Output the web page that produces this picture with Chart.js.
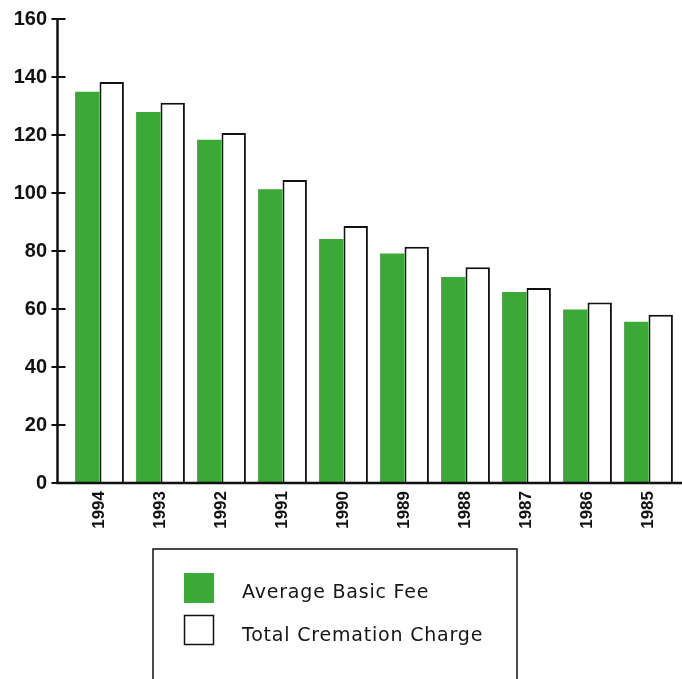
<!DOCTYPE html>
<html>
<head>
<meta charset="utf-8">
<script src="https://cdn.jsdelivr.net/npm/chart.js@4"></script>
<style>
html,body{margin:0;padding:0;background:#fff;}
#wrap{position:relative;width:682px;height:679px;}
</style>
</head>
<body>
<div id="wrap"><canvas id="c" width="682" height="679"></canvas></div>
<script>
const years = ['1994','1993','1992','1991','1990','1989','1988','1987','1986','1985'];
const averageBasicFee = [134.9,127.9,118.4,101.3,84.1,79.1,71.0,65.9,59.8,55.6];
const totalCremationCharge = [138.3,131.1,120.7,104.5,88.6,81.5,74.4,67.2,62.2,58.0];
const yTicks = [0,20,40,60,80,100,120,140,160];
const seriesLabels = ['Average Basic Fee','Total Cremation Charge'];

const GREEN = '#3aa936';
const INK = '#111111';

const axisPlugin = {
  id: 'handAxes',
  afterDatasetsDraw(chart) {
    const {ctx, chartArea, scales: {y}} = chart;
    const ax = chartArea.left - 11.5;
    const y0 = y.getPixelForValue(yTicks[0]);
    const yTop = y.getPixelForValue(yTicks[yTicks.length - 1]);
    ctx.save();
    ctx.strokeStyle = INK;
    ctx.lineWidth = 2.5;
    ctx.beginPath();
    ctx.moveTo(ax, yTop - 1);
    ctx.lineTo(ax, y0 + 1);
    ctx.stroke();
    ctx.beginPath();
    ctx.moveTo(ax - 1, y0);
    ctx.lineTo(chart.width, y0);
    ctx.stroke();
    ctx.lineWidth = 2;
    ctx.beginPath();
    yTicks.forEach(v => {
      const py = y.getPixelForValue(v);
      ctx.moveTo(ax - 6, py);
      ctx.lineTo(ax + 8, py);
    });
    ctx.stroke();
    ctx.restore();
  }
};

const legendPlugin = {
  id: 'boxLegend',
  afterDraw(chart) {
    const ctx = chart.ctx;
    const ds = chart.data.datasets;
    ctx.save();
    ctx.strokeStyle = INK;
    ctx.lineWidth = 1.5;
    ctx.strokeRect(153, 549, 364, 200);
    ctx.fillStyle = ds[0].backgroundColor;
    ctx.fillRect(184, 573, 30, 30);
    ctx.fillStyle = '#fff';
    ctx.fillRect(184, 615, 30, 30);
    ctx.lineWidth = 1.5;
    ctx.strokeRect(184.5, 615.5, 29, 29);
    ctx.fillStyle = '#151515';
    ctx.font = '19px "DejaVu Sans"';
    if ('letterSpacing' in ctx) ctx.letterSpacing = '0.8px';
    ctx.textBaseline = 'alphabetic';
    ctx.textAlign = 'left';
    ctx.fillText(ds[0].label, 242, 598);
    ctx.fillText(ds[1].label, 242, 641);
    ctx.restore();
  }
};

new Chart(document.getElementById('c'), {
  type: 'bar',
  data: {
    labels: years,
    datasets: [
      {
        label: seriesLabels[0],
        data: averageBasicFee,
        backgroundColor: GREEN,
        borderWidth: 0,
        categoryPercentage: 0.8,
        barPercentage: 1.0
      },
      {
        label: seriesLabels[1],
        data: totalCremationCharge,
        backgroundColor: '#ffffff',
        borderColor: INK,
        borderWidth: 2,
        categoryPercentage: 0.8,
        barPercentage: 1.0
      }
    ]
  },
  options: {
    responsive: false,
    animation: false,
    devicePixelRatio: 1,
    layout: { padding: { top: 19, right: 3, left: 0, bottom: 0 } },
    plugins: {
      legend: { display: false },
      tooltip: { enabled: false }
    },
    scales: {
      x: {
        grid: { display: false, drawTicks: false },
        border: { display: false },
        ticks: {
          minRotation: 90,
          maxRotation: 90,
          padding: 8,
          color: INK,
          font: { family: 'Liberation Sans', weight: 'bold', size: 17 }
        },
        afterFit(s) { s.height = 196; }
      },
      y: {
        min: 0,
        max: 160,
        grid: { display: true, drawOnChartArea: false, drawTicks: true, tickLength: 22, color: 'rgba(0,0,0,0)' },
        border: { display: false },
        ticks: {
          stepSize: 20,
          padding: 0,
          color: INK,
          font: { family: 'Liberation Sans', weight: 'bold', size: 20 }
        },
        afterFit(s) { s.width = 69; }
      }
    }
  },
  plugins: [axisPlugin, legendPlugin]
});
</script>
</body>
</html>
